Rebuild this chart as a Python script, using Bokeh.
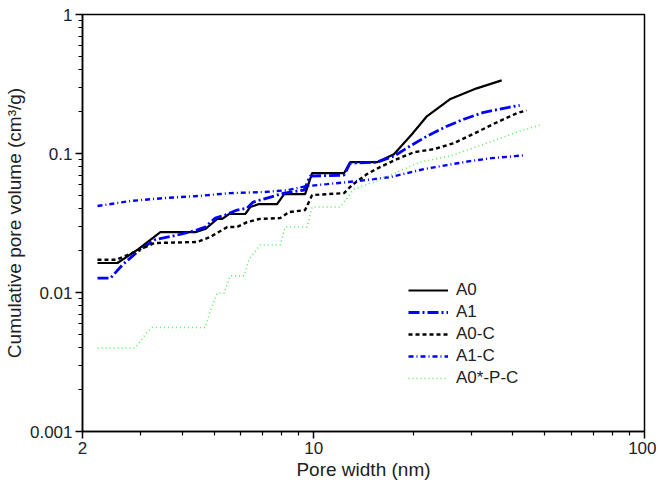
from bokeh.plotting import figure
from bokeh.models import FixedTicker, Legend, LegendItem
from bokeh.embed import file_html
from bokeh.resources import INLINE

# ---------------- data ----------------
A0_x = [2.22, 2.55, 2.95, 3.44, 4.39, 4.70, 5.11, 5.29, 5.55, 6.21, 6.43, 6.84, 7.75, 8.14, 9.42, 9.89,
        12.35, 12.88, 15.53, 17.48, 19.81, 21.98, 25.79, 31.1, 37.0]
A0_y = [0.0163, 0.0163, 0.0205, 0.0272, 0.0272, 0.0286, 0.0338, 0.0338, 0.0367, 0.0367, 0.0412, 0.0433,
        0.0433, 0.0511, 0.0511, 0.0722, 0.0722, 0.0866, 0.0866, 0.0989, 0.1377, 0.1853, 0.2454, 0.2943, 0.336]

A1_x = [2.22, 2.43, 2.64, 2.93, 3.30, 3.87, 4.45, 4.70, 5.04, 5.40, 5.87, 6.29, 6.56, 7.23, 8.14, 9.35,
        9.75, 12.35, 12.88, 15.53, 17.48, 19.53, 21.98, 25.26, 28.43, 32.7, 37.52, 41.95]
A1_y = [0.0127, 0.0127, 0.0158, 0.0196, 0.0239, 0.0259, 0.0282, 0.0296, 0.0343, 0.0361, 0.0392, 0.0405,
        0.0447, 0.0478, 0.0519, 0.0545, 0.0688, 0.0699, 0.0852, 0.0866, 0.0957, 0.1129, 0.1331, 0.1571,
        0.1764, 0.1980, 0.2114, 0.2223]

A0C_x = [2.22, 2.53, 2.79, 3.30, 4.45, 4.87, 5.48, 5.87, 6.29, 6.84, 7.92, 8.43, 9.42, 9.89, 12.35, 13.06,
         14.49, 15.86, 17.85, 20.09, 23.08, 26.5, 30.7, 35.3, 41.08, 44.0]
A0C_y = [0.0172, 0.0172, 0.0190, 0.0227, 0.0231, 0.0251, 0.0296, 0.0296, 0.0321, 0.0338, 0.0343, 0.0379,
         0.0392, 0.0502, 0.0519, 0.0593, 0.0711, 0.0798, 0.0911, 0.1022, 0.1074, 0.1186, 0.140, 0.165,
         0.1948, 0.2046]

A1C_x = [2.22, 2.79, 3.54, 4.45, 5.59, 7.09, 8.31, 9.55, 10.97, 12.61, 15.21, 17.0, 19.13, 21.53, 25.26,
         29.64, 34.53, 40.5, 43.43]
A1C_y = [0.0419, 0.0455, 0.0478, 0.0494, 0.0519, 0.0528, 0.0545, 0.0583, 0.0602, 0.0622, 0.0654, 0.0676,
         0.0722, 0.0772, 0.0825, 0.0881, 0.0926, 0.0957, 0.0973]

APC_x = [2.22, 2.89, 3.14, 3.25, 4.70, 4.87, 5.11, 5.36, 5.59, 6.16, 6.38, 6.89, 7.92, 8.20, 9.55, 9.89,
         12.01, 13.24, 15.53, 17.85, 20.94, 25.79, 32.7, 41.08, 48.2]
APC_y = [0.0040, 0.0040, 0.0052, 0.0056, 0.0056, 0.0074, 0.0099, 0.0099, 0.0132, 0.0132, 0.0174, 0.0220,
         0.0220, 0.0296, 0.0296, 0.0412, 0.0412, 0.0555, 0.0633, 0.0734, 0.0866, 0.0957, 0.1167, 0.1423,
         0.1597]

series_names = ["A0", "A1", "A0-C", "A1-C", "A0*-P-C"]

x_tick_values = [2, 10, 100]
x_tick_labels = ["2", "10", "100"]
x_minor = [3, 4, 5, 6, 7, 8, 9, 20, 30, 40, 50, 60, 70, 80, 90]
y_tick_values = [0.001, 0.01, 0.1, 1]
y_tick_labels = ["0.001", "0.01", "0.1", "1"]
y_minor = [0.002, 0.003, 0.004, 0.005, 0.006, 0.007, 0.008, 0.009,
           0.02, 0.03, 0.04, 0.05, 0.06, 0.07, 0.08, 0.09,
           0.2, 0.3, 0.4, 0.5, 0.6, 0.7, 0.8, 0.9]

FONT = "Liberation Sans"

p = figure(frame_width=562, frame_height=417, x_axis_type="log", y_axis_type="log",
           x_range=(2, 100), y_range=(0.001, 1),
           output_backend="svg", toolbar_location=None,
           min_border_left=77, min_border_right=12, min_border_top=14, min_border_bottom=40)

p.xgrid.visible = False
p.ygrid.visible = False
p.outline_line_color = "black"
p.outline_line_width = 1.5
p.outline_line_alpha = 1.0

p.xaxis.ticker = FixedTicker(ticks=x_tick_values, minor_ticks=x_minor)
p.yaxis.ticker = FixedTicker(ticks=y_tick_values, minor_ticks=y_minor)
p.xaxis.major_label_overrides = dict(zip(x_tick_values, x_tick_labels))
p.yaxis.major_label_overrides = dict(zip(y_tick_values, y_tick_labels))

for ax in (p.xaxis[0], p.yaxis[0]):
    ax.axis_line_color = "black"
    ax.axis_line_width = 1.5
    ax.major_tick_line_color = "black"
    ax.minor_tick_line_color = "black"
    ax.major_tick_line_width = 1.5
    ax.minor_tick_line_width = 1.2
    ax.major_tick_in = 0
    ax.major_tick_out = 7
    ax.minor_tick_in = 0
    ax.minor_tick_out = 4
    ax.major_label_text_font = FONT
    ax.major_label_text_font_size = "17px"
    ax.major_label_text_color = "#222222"
    ax.axis_label_text_font = FONT
    ax.axis_label_text_font_size = "19px"
    ax.axis_label_text_font_style = "normal"
    ax.axis_label_text_color = "#222222"

p.xaxis.major_label_standoff = 3
p.xaxis.axis_label_standoff = 2
p.yaxis.major_label_standoff = 3
p.yaxis.axis_label_standoff = 2

p.xaxis.axis_label = "Pore width (nm)"
p.yaxis.axis_label = "Cumulative pore volume (cm³/g)"

r0 = p.line(A0_x, A0_y, line_color="black", line_width=2.2)
r1 = p.line(A1_x, A1_y, line_color="#0000ff", line_width=2.8, line_dash="11 3 2 3")
r2 = p.line(A0C_x, A0C_y, line_color="black", line_width=2.4, line_dash="4 3")
r3 = p.line(A1C_x, A1C_y, line_color="#0000ff", line_width=2.4, line_dash="5 3 1 3")
r4 = p.line(APC_x, APC_y, line_color="#55ee55", line_width=1.5, line_dash="1 3")

legend = Legend(items=[LegendItem(label=n, renderers=[r]) for n, r in zip(series_names, [r0, r1, r2, r3, r4])],
                location=(326, 42), padding=0, margin=0, spacing=0,
                glyph_width=40, glyph_height=22, label_height=22, label_standoff=8,
                label_text_font=FONT, label_text_font_size="17px", label_text_color="#222222",
                border_line_alpha=0, background_fill_alpha=0)
p.add_layout(legend, "center")

open("out.html", "w").write(file_html(p, INLINE))
